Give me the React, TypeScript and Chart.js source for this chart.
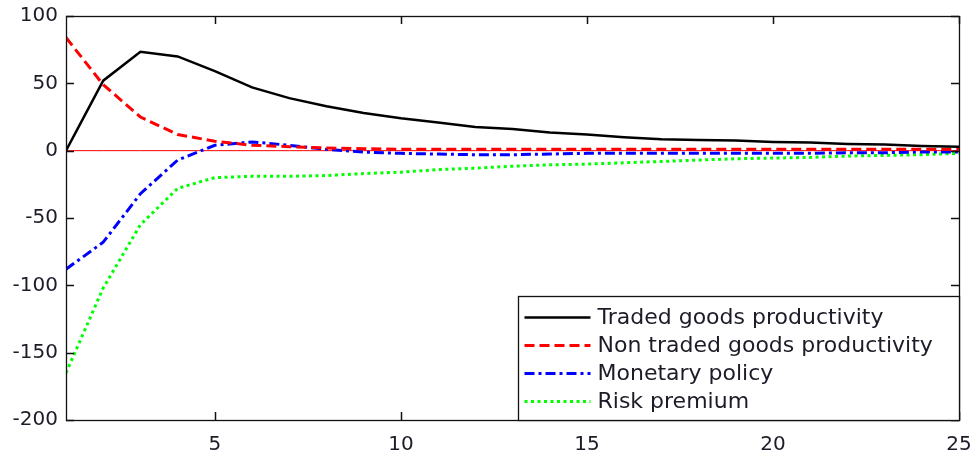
import { useEffect, useRef } from 'react';
import { Chart, registerables } from 'chart.js';

Chart.register(...registerables);

// Impulse responses over 25 periods
const periods = [1, 2, 3, 4, 5, 6, 7, 8, 9, 10, 11, 12, 13, 14, 15, 16, 17, 18, 19, 20, 21, 22, 23, 24, 25];
const tradedProductivity = [0, 52, 73.5, 70, 59, 47, 39, 33, 28, 24, 21, 17.5, 16, 13.5, 12, 10, 8.5, 8, 7.5, 6.5, 6, 5, 4.5, 3.5, 3];
const nonTradedProductivity = [84, 49, 25, 12, 7, 4, 3, 2, 1.5, 1, 1, 1, 1, 1, 1, 1, 1, 1, 1, 1, 1, 1, 1, 1, 1];
const monetaryPolicy = [-88, -68, -32, -7, 4, 6.5, 4, 1, -1, -2, -2.5, -3, -3, -2.5, -2, -2, -2, -2, -2, -2, -2, -1.5, -1.5, -1, -1];
const riskPremium = [-165, -102, -55, -28, -20, -19, -19, -18.5, -17, -16, -14, -13, -11.5, -10.5, -10, -9, -8, -7, -6, -5.5, -5, -4, -3.5, -3, -2];
const zeroLine = [0, 0, 0, 0, 0, 0, 0, 0, 0, 0, 0, 0, 0, 0, 0, 0, 0, 0, 0, 0, 0, 0, 0, 0, 0];

const seriesLabels = [
  'Traded goods productivity',
  'Non traded goods productivity',
  'Monetary policy',
  'Risk premium',
];
const xTicks = [5, 10, 15, 20, 25];
const yTicks = [-200, -150, -100, -50, 0, 50, 100];

const toPoints = (vals: number[]) => vals.map((v, i) => ({ x: periods[i], y: v }));

// Draws the boxed frame, inward ticks on all four sides and the legend box
const framePlugin = {
  id: 'matlabFrame',
  afterDatasetsDraw(chart: any) {
    const { ctx, chartArea: a, scales } = chart;
    ctx.save();
    ctx.strokeStyle = '#111';
    ctx.lineWidth = 1.3;
    ctx.strokeRect(Math.round(a.left) + 0.5, Math.round(a.top) + 0.5, Math.round(a.right - a.left), Math.round(a.bottom - a.top));

    const len = 8;
    ctx.lineWidth = 1.5;
    ctx.beginPath();
    xTicks.forEach((v) => {
      const px = Math.round(scales.x.getPixelForValue(v)) + 0.5;
      ctx.moveTo(px, a.bottom);
      ctx.lineTo(px, a.bottom - len);
      ctx.moveTo(px, a.top);
      ctx.lineTo(px, a.top + len);
    });
    yTicks.forEach((v) => {
      const py = Math.round(scales.y.getPixelForValue(v)) + 0.5;
      ctx.moveTo(a.left, py);
      ctx.lineTo(a.left + len, py);
      ctx.moveTo(a.right, py);
      ctx.lineTo(a.right - len, py);
    });
    ctx.stroke();

    // Legend box anchored at the lower right corner of the plot
    const boxW = 441;
    const boxH = 124;
    const bx = Math.round(a.right - boxW) + 0.5;
    const by = Math.round(a.bottom - boxH) + 0.5;
    ctx.fillStyle = '#fff';
    ctx.fillRect(bx, by, boxW, boxH);
    ctx.lineWidth = 1.3;
    ctx.strokeStyle = '#111';
    ctx.strokeRect(bx, by, boxW, boxH);

    ctx.font = '22px "DejaVu Sans"';
    ctx.textBaseline = 'middle';
    ctx.textAlign = 'left';
    chart.data.datasets.forEach((ds: any, i: number) => {
      if (!ds.label) return;
      const rowY = by + 21 + i * 28;
      ctx.save();
      ctx.strokeStyle = ds.borderColor;
      ctx.lineWidth = ds.borderWidth;
      ctx.setLineDash(ds.borderDash || []);
      ctx.beginPath();
      ctx.moveTo(bx + 6, rowY);
      ctx.lineTo(bx + 72, rowY);
      ctx.stroke();
      ctx.restore();
      ctx.fillStyle = '#1c1c28';
      ctx.fillText(ds.label, bx + 79, rowY + 1);
    });
    ctx.restore();
  },
};

export default function App() {
  const canvasRef = useRef<HTMLCanvasElement | null>(null);

  useEffect(() => {
    if (!canvasRef.current) return;
    const chart = new Chart(canvasRef.current, {
      type: 'line',
      data: {
        datasets: [
          {
            label: seriesLabels[0],
            data: toPoints(tradedProductivity),
            borderColor: '#000000',
            borderWidth: 2.5,
            borderDash: [],
          },
          {
            label: seriesLabels[1],
            data: toPoints(nonTradedProductivity),
            borderColor: '#ff0000',
            borderWidth: 3,
            borderDash: [10, 5],
          },
          {
            label: seriesLabels[2],
            data: toPoints(monetaryPolicy),
            borderColor: '#0000ff',
            borderWidth: 3,
            borderDash: [10, 4, 3, 4],
          },
          {
            label: seriesLabels[3],
            data: toPoints(riskPremium),
            borderColor: '#00ff00',
            borderWidth: 3,
            borderDash: [3, 3.5],
          },
          {
            label: '',
            data: toPoints(zeroLine),
            borderColor: '#ff0000',
            borderWidth: 1,
            borderDash: [],
          },
        ],
      },
      options: {
        responsive: false,
        animation: false,
        layout: { padding: { left: 0, top: 16, right: 17, bottom: 0 } },
        elements: { point: { radius: 0 }, line: { tension: 0, fill: false } },
        plugins: { legend: { display: false }, tooltip: { enabled: false } },
        scales: {
          x: {
            type: 'linear',
            min: 1,
            max: 25,
            grid: { display: false, drawTicks: false },
            border: { display: false },
            afterBuildTicks: (scale: any) => {
              scale.ticks = xTicks.map((v) => ({ value: v }));
            },
            afterFit: (scale: any) => {
              scale.height = 30;
              scale.paddingLeft = 0;
              scale.paddingRight = 0;
            },
            ticks: {
              padding: 13,
              maxRotation: 0,
              autoSkip: false,
              color: '#1c1c28',
              font: { family: '"DejaVu Sans"', size: 20 },
            },
          },
          y: {
            type: 'linear',
            min: -200,
            max: 100,
            grid: { display: false, drawTicks: false },
            border: { display: false },
            afterBuildTicks: (scale: any) => {
              scale.ticks = yTicks.map((v) => ({ value: v }));
            },
            afterFit: (scale: any) => {
              scale.width = 66;
              scale.paddingTop = 0;
              scale.paddingBottom = 0;
            },
            ticks: {
              padding: 8,
              autoSkip: false,
              color: '#1c1c28',
              font: { family: '"DejaVu Sans"', size: 20 },
            },
          },
        },
      },
      plugins: [framePlugin],
    });
    return () => chart.destroy();
  }, []);

  return (
    <div style={{ position: 'fixed', left: 0, top: 0, width: 976, height: 450, background: '#fff' }}>
      <canvas ref={canvasRef} width={976} height={450} style={{ display: 'block' }} />
    </div>
  );
}
